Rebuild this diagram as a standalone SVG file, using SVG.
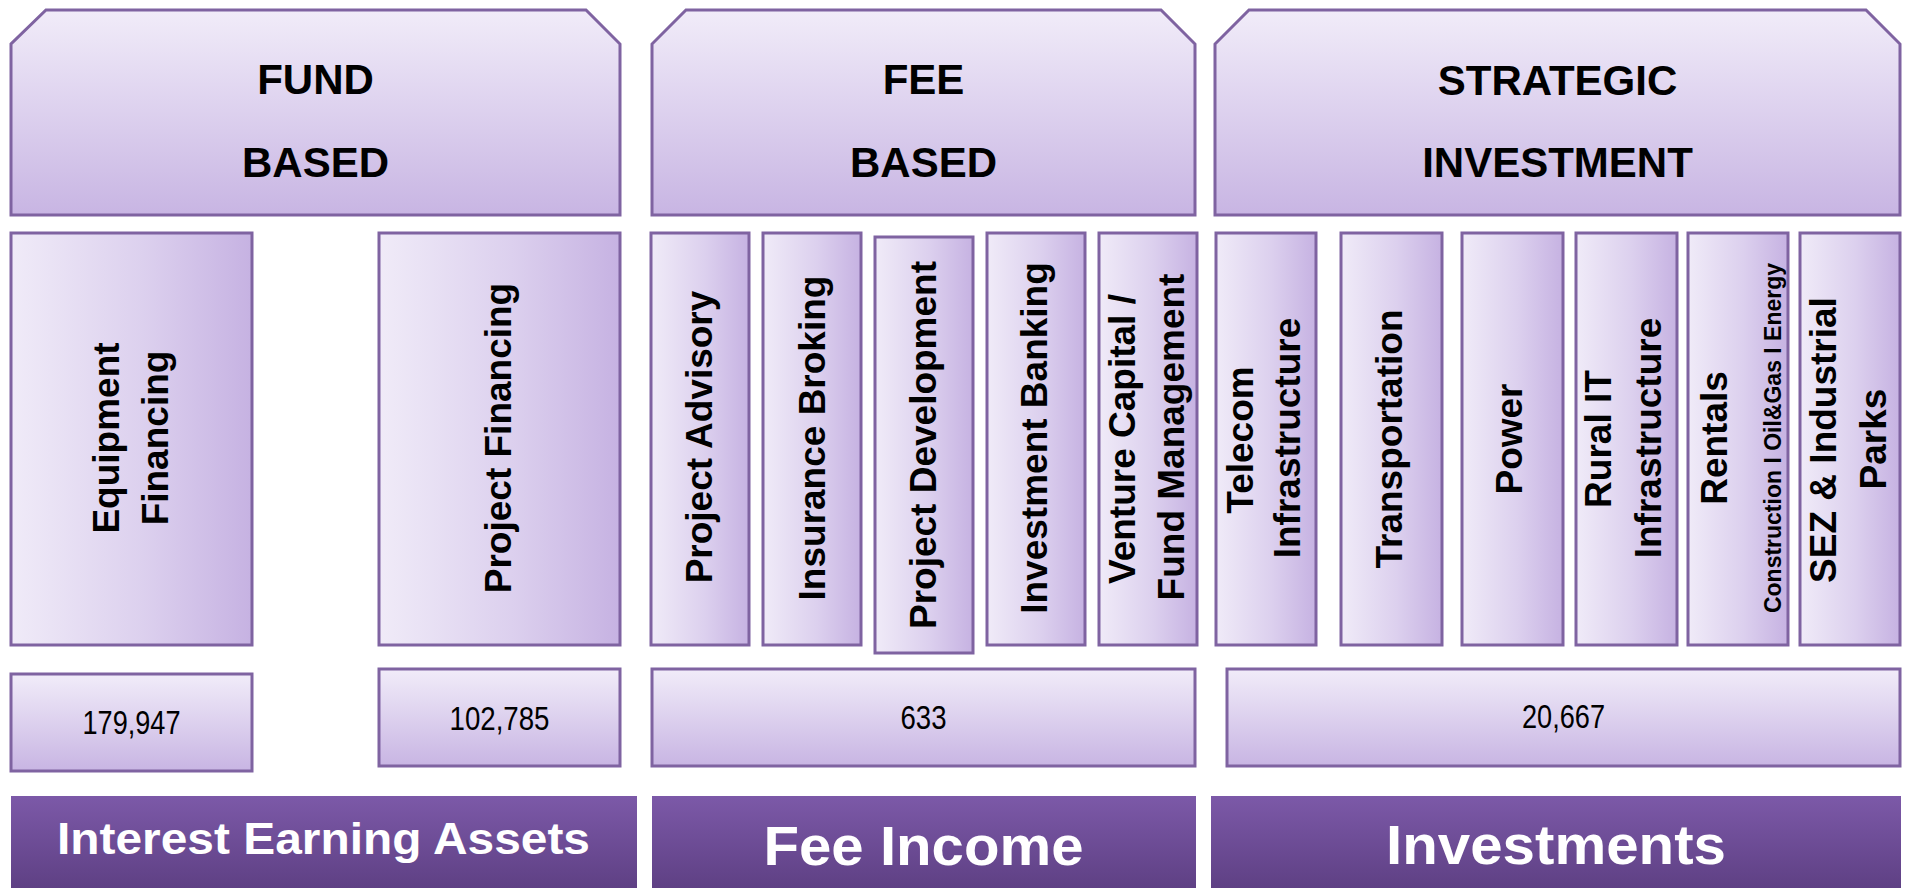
<svg xmlns="http://www.w3.org/2000/svg" width="1907" height="888" viewBox="0 0 1907 888">
<defs>
<linearGradient id="gV" x1="0" y1="0" x2="0" y2="1">
<stop offset="0" stop-color="#F1ECF9"/><stop offset="1" stop-color="#C8B5E3"/>
</linearGradient>
<linearGradient id="gH" x1="0" y1="0" x2="1" y2="0">
<stop offset="0" stop-color="#F0EBF8"/><stop offset="0.55" stop-color="#DCD0EE"/><stop offset="1" stop-color="#C6B2E2"/>
</linearGradient>
<linearGradient id="gBar" x1="0" y1="0" x2="0" y2="1">
<stop offset="0" stop-color="#7C59A8"/><stop offset="1" stop-color="#5C3E81"/>
</linearGradient>
</defs>
<style>
.hdr{fill:url(#gV);stroke:#7F63A1;stroke-width:3}
.mid{fill:url(#gH);stroke:#7F63A1;stroke-width:3}
.val{fill:url(#gV);stroke:#7F63A1;stroke-width:3}
.bar{fill:url(#gBar)}
text{font-family:"Liberation Sans",Arial,sans-serif;text-anchor:middle}
.ht{font-size:42px;font-weight:bold;fill:#000}
.vt{font-size:37px;font-weight:bold;fill:#000}
.st{font-size:23px;font-weight:bold;fill:#000}
.nt{font-size:34px;fill:#000}
.bt{font-weight:bold;fill:#fff}
</style>
<rect width="1907" height="888" fill="#fff"/>

<g id="hdr-fund">
<path class="hdr" d="M46,10 H586 L620,44 V215 H11 V44 Z"/>
<text class="ht" x="315.5" y="94">FUND</text>
<text class="ht" x="315.5" y="177">BASED</text>
</g>
<g id="hdr-fee">
<path class="hdr" d="M686,10 H1161 L1195,44 V215 H652 V44 Z"/>
<text class="ht" x="923.5" y="94">FEE</text>
<text class="ht" x="923.5" y="177">BASED</text>
</g>
<g id="hdr-strategic">
<path class="hdr" d="M1249,10 H1866 L1900,44 V215 H1215 V44 Z"/>
<text class="ht" x="1557.5" y="95">STRATEGIC</text>
<text class="ht" x="1557.5" y="177">INVESTMENT</text>
</g>

<g id="equipment-financing">
<rect class="mid" x="11" y="233" width="241" height="412"/>
<text class="vt" transform="translate(119,438) rotate(-90)">Equipment</text>
<text class="vt" transform="translate(168,438) rotate(-90)">Financing</text>
</g>
<g id="project-financing">
<rect class="mid" x="379" y="233" width="241" height="412"/>
<text class="vt" transform="translate(511,438) rotate(-90)">Project Financing</text>
</g>
<g id="project-advisory">
<rect class="mid" x="651" y="233" width="98" height="412"/>
<text class="vt" transform="translate(712,437) rotate(-90)">Project Advisory</text>
</g>
<g id="insurance-broking">
<rect class="mid" x="763" y="233" width="98" height="412"/>
<text class="vt" transform="translate(825,438) rotate(-90)">Insurance Broking</text>
</g>
<g id="project-development">
<rect class="mid" x="875" y="237" width="98" height="416"/>
<text class="vt" transform="translate(936,445) rotate(-90)">Project Development</text>
</g>
<g id="investment-banking">
<rect class="mid" x="987" y="233" width="98" height="412"/>
<text class="vt" transform="translate(1047,438) rotate(-90)">Investment Banking</text>
</g>
<g id="venture-capital">
<rect class="mid" x="1099" y="233" width="98" height="412"/>
<text class="vt" transform="translate(1135,439) rotate(-90)">Venture Capital /</text>
<text class="vt" transform="translate(1184,437) rotate(-90)">Fund Management</text>
</g>
<g id="telecom">
<rect class="mid" x="1216" y="233" width="100" height="412"/>
<text class="vt" transform="translate(1253,440) rotate(-90)">Telecom</text>
<text class="vt" transform="translate(1300,438) rotate(-90)">Infrastructure</text>
</g>
<g id="transportation">
<rect class="mid" x="1341" y="233" width="101" height="412"/>
<text class="vt" transform="translate(1402,439) rotate(-90)">Transportation</text>
</g>
<g id="power">
<rect class="mid" x="1462" y="233" width="101" height="412"/>
<text class="vt" transform="translate(1522,439) rotate(-90)">Power</text>
</g>
<g id="rural-it">
<rect class="mid" x="1576" y="233" width="101" height="412"/>
<text class="vt" transform="translate(1611,439) rotate(-90)">Rural IT</text>
<text class="vt" transform="translate(1661,438) rotate(-90)">Infrastructure</text>
</g>
<g id="rentals">
<rect class="mid" x="1688" y="233" width="100" height="412"/>
<text class="vt" transform="translate(1727,438) rotate(-90)">Rentals</text>
<text class="st" transform="translate(1781,438) rotate(-90)">Construction I Oil&amp;Gas I Energy</text>
</g>
<g id="sez">
<rect class="mid" x="1800" y="233" width="100" height="412"/>
<text class="vt" transform="translate(1836,440) rotate(-90)">SEZ &amp; Industrial</text>
<text class="vt" transform="translate(1886,439) rotate(-90)">Parks</text>
</g>

<g id="val-179947">
<rect class="val" x="11" y="674" width="241" height="97"/>
<text class="nt" x="131.5" y="734" font-size="36" textLength="98" lengthAdjust="spacingAndGlyphs">179,947</text>
</g>
<g id="val-102785">
<rect class="val" x="379" y="669" width="241" height="97"/>
<text class="nt" x="499.5" y="730" textLength="100" lengthAdjust="spacingAndGlyphs">102,785</text>
</g>
<g id="val-633">
<rect class="val" x="652" y="669" width="543" height="97"/>
<text class="nt" x="923.5" y="729" textLength="46" lengthAdjust="spacingAndGlyphs">633</text>
</g>
<g id="val-20667">
<rect class="val" x="1227" y="669" width="673" height="97"/>
<text class="nt" x="1563.5" y="728" textLength="83" lengthAdjust="spacingAndGlyphs">20,667</text>
</g>

<g id="bar-interest">
<rect class="bar" x="11" y="796" width="626" height="100"/>
<text class="bt" x="323.5" y="854" font-size="45" textLength="533" lengthAdjust="spacingAndGlyphs">Interest Earning Assets</text>
</g>
<g id="bar-fee">
<rect class="bar" x="652" y="796" width="544" height="100"/>
<text class="bt" x="923.5" y="865" font-size="55" textLength="320" lengthAdjust="spacingAndGlyphs">Fee Income</text>
</g>
<g id="bar-investments">
<rect class="bar" x="1211" y="796" width="690" height="100"/>
<text class="bt" x="1556" y="864" font-size="56" textLength="340" lengthAdjust="spacingAndGlyphs">Investments</text>
</g>

<g id="connectors"></g>
</svg>
